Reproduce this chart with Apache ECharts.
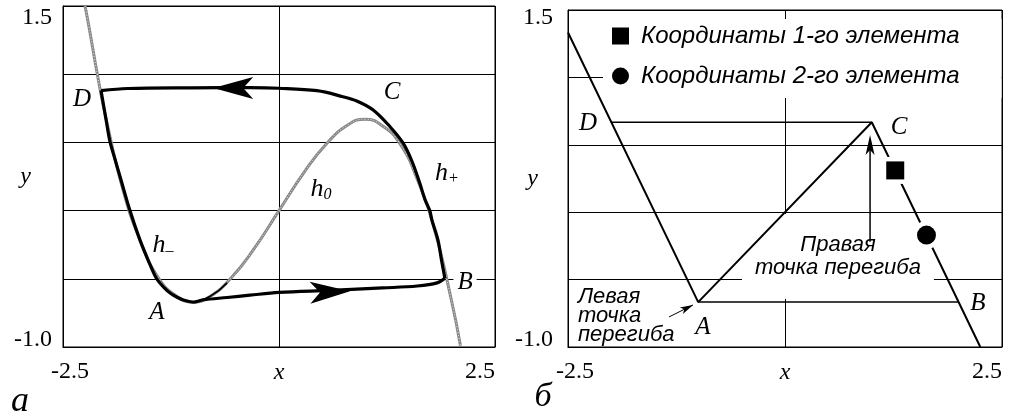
<!DOCTYPE html>
<html>
<head>
<meta charset="utf-8">
<script src="https://cdn.jsdelivr.net/npm/echarts@6/dist/echarts.min.js"></script>
<style>
  html, body { margin: 0; padding: 0; background: #fff; }
  #chart { width: 1013px; height: 419px; }
</style>
</head>
<body>
<div id="chart"></div>
<script>
// ---- axis extents and tick labels (both panels share them) ----
const xRange = [-2.5, 2.5];
const yRange = [-1.0, 1.5];
const xTickLabels = ['-2.5', '2.5'];
const yTickLabels = ['-1.0', '1.5'];

// ---- panel а: cubic nullcline h0 ----
const cubicX = [-2.245, -2.2, -2.1, -2.0, -1.8, -1.6, -1.4, -1.2, -1.0, -0.8, -0.55, -0.3, 0.0,
                0.3, 0.55, 0.8, 1.0, 1.2, 1.4, 1.6, 1.8, 2.0, 2.1];
const cubicY = [1.5, 1.35, 0.99, 0.67, 0.14, -0.23, -0.49, -0.62, -0.67, -0.63, -0.49, -0.29, 0.0,
                0.29, 0.49, 0.63, 0.67, 0.62, 0.49, 0.23, -0.14, -0.67, -0.99];

// ---- panel а: limit cycle, D -> h- -> A -> B ----
const cycleLowerX = [-2.06, -2.0, -1.956, -1.9, -1.84, -1.725, -1.61, -1.5, -1.416, -1.33, -1.257,
                     -1.18, -1.106, -0.99, -0.88, -0.6, -0.336, 0.0, 0.6, 1.2, 1.6, 1.83, 1.92];
const cycleLowerY = [0.88, 0.66, 0.505, 0.38, 0.25, 0.0, -0.215, -0.385, -0.5, -0.565, -0.606,
                     -0.635, -0.655, -0.672, -0.655, -0.637, -0.62, -0.6, -0.585, -0.567, -0.553, -0.53, -0.496];
// ---- panel а: limit cycle, B -> h+ -> C -> D ----
const cycleUpperX = [1.92, 1.88, 1.84, 1.77, 1.745, 1.69, 1.63, 1.54, 1.435, 1.285, 1.09, 0.9, 0.74,
                     0.44, 0.0, -0.34, -1.0, -1.75, -2.06];
const cycleUpperY = [-0.496, -0.36, -0.216, -0.07, 0.0, 0.08, 0.2, 0.36, 0.496, 0.615, 0.738, 0.804, 0.835,
                     0.879, 0.897, 0.901, 0.9, 0.895, 0.88];
// short stretch of trajectory that leaves A along h0
const leaveX = [-0.99, -0.8, -0.6];
const leaveY = [-0.672, -0.63, -0.53];
// direction arrows on the cycle (centre of each arrowhead, heading in degrees)
const cycleArrowX = [-0.53, 0.59];
const cycleArrowY = [0.899, -0.597];
const cycleArrowHeading = [90, -88];

// ---- panel б: piecewise-linear characteristic ----
const pwX = [-2.5, -1.0, 1.0, 2.25];
const pwY = [1.333, -0.667, 0.667, -1.0];
// fast jumps D-C and A-B
const jumpTopX = [-2.0, 1.0];
const jumpTopY = [0.667, 0.667];
const jumpBottomX = [-1.0, 2.0];
const jumpBottomY = [-0.667, -0.667];
// positions of the two elements
const elementNames = ['Координаты 1-го элемента', 'Координаты 2-го элемента'];
const element1 = [1.27, 0.31];
const element2 = [1.63, -0.17];
// pointers to the inflection points (shaft start -> arrow tip)
const rightPointerX = [0.98, 0.98];
const rightPointerY = [-0.22, 0.573];
const leftPointerX = [-1.336, -1.06];
const leftPointerY = [-0.777, -0.688];

const zip = (xs, ys) => xs.map((x, i) => [x, ys[i]]);
const SERIF = "'Liberation Serif', 'Times New Roman', serif";
const SANS = "'Liberation Sans', Arial, sans-serif";
const ARROW = 'path://M10,0L20,40L10,30L0,40Z';

const near = (a, b) => Math.abs(a - b) < 1e-9;

function xAxisFor(i) {
  const txt = { fontFamily: SERIF, fontSize: 24, color: '#000' };
  return {
    type: 'value', gridIndex: i, min: xRange[0], max: xRange[1], interval: 2.5,
    axisLine: { show: true, onZero: false, lineStyle: { color: '#000', width: 1 } },
    axisTick: { show: false },
    splitLine: { show: true, lineStyle: { color: '#000', width: 1 } },
    axisLabel: {
      margin: 13, ...txt, alignMaxLabel: 'right',
      formatter: v => near(v, xRange[0]) ? '{lo|' + xTickLabels[0] + '}'
                    : near(v, xRange[1]) ? '{hi|' + xTickLabels[1] + '}' : '',
      rich: { lo: { ...txt, padding: [0, 0, 0, 14] }, hi: { ...txt } }
    },
    name: 'x', nameLocation: 'middle', nameGap: 14, nameMoveOverlap: false,
    nameTextStyle: { ...txt, fontStyle: 'italic' }
  };
}

function yAxisFor(i, topShift, margin, nameGap) {
  const txt = { fontFamily: SERIF, fontSize: 24, color: '#000' };
  return {
    type: 'value', gridIndex: i, min: yRange[0], max: yRange[1], interval: 0.5,
    axisLine: { show: true, onZero: false, lineStyle: { color: '#000', width: 1 } },
    axisTick: { show: false },
    splitLine: { show: true, lineStyle: { color: '#000', width: 1 } },
    axisLabel: {
      margin: margin, ...txt,
      formatter: v => near(v, yRange[0]) ? '{lo|' + yTickLabels[0] + '}'
                    : near(v, yRange[1]) ? '{hi|' + yTickLabels[1] + '}' : '',
      rich: { lo: { ...txt, padding: [0, 0, 14, 0] }, hi: { ...txt, padding: [topShift * 2, 0, 0, 0] } }
    },
    name: 'y', nameLocation: 'middle', nameGap: nameGap, nameRotate: 0, nameMoveOverlap: false,
    nameTextStyle: { ...txt, fontStyle: 'italic' }
  };
}

const letter = { fontFamily: SERIF, fontStyle: 'italic', fontSize: 25, color: '#000' };
const hRich = {
  h: { fontFamily: SERIF, fontStyle: 'italic', fontSize: 26, color: '#000' },
  s: { fontFamily: SERIF, fontSize: 16, color: '#000', padding: [12, 0, 0, 0] }
};
const note = { fontFamily: SANS, fontStyle: 'italic', fontSize: 22, color: '#000' };

function annotations(xi, items, z) {
  return {
    type: 'scatter', xAxisIndex: xi, yAxisIndex: xi, z: z, silent: true,
    symbol: 'circle', symbolSize: 1, itemStyle: { color: 'transparent', opacity: 1 },
    label: { show: true, position: 'inside', ...letter },
    data: items
  };
}

const blackLine = (xi, data, width, smooth, z) => ({
  type: 'line', xAxisIndex: xi, yAxisIndex: xi, data: data, smooth: smooth,
  showSymbol: false, symbol: 'none', z: z || 2, silent: true,
  lineStyle: { color: '#000', width: width }
});

const option = {
  animation: false,
  backgroundColor: '#fff',
  grid: [
    { left: 63, top: 6, width: 432, height: 341, show: true, borderColor: '#000', borderWidth: 1 },
    { left: 568, top: 10, width: 434, height: 337, show: true, borderColor: '#000', borderWidth: 1 }
  ],
  xAxis: [xAxisFor(0), xAxisFor(1)],
  yAxis: [yAxisFor(0, 12, 11, 32), yAxisFor(1, 8, 15, 30)],
  legend: {
    data: [{ name: elementNames[0], icon: 'rect' }, { name: elementNames[1], icon: 'circle' }],
    orient: 'vertical', left: 603, top: 19,
    itemWidth: 17, itemHeight: 17, itemGap: 14,
    backgroundColor: '#fff', padding: [4, 42, 9, 9],
    selectedMode: false,
    itemStyle: { borderWidth: 0, opacity: 1 },
    textStyle: { fontFamily: SANS, fontStyle: 'italic', fontSize: 24, color: '#000', lineHeight: 26, padding: [0, 0, 0, 7] }
  },
  graphic: [
    { type: 'text', x: 20, y: 402, style: { text: 'а', font: "italic 36px 'Liberation Serif', serif", fill: '#000', textAlign: 'center', textVerticalAlign: 'middle' } },
    { type: 'text', x: 543, y: 397, style: { text: 'б', font: "italic 34px 'Liberation Serif', serif", fill: '#000', textAlign: 'center', textVerticalAlign: 'middle' } }
  ],
  series: [
    // ---------- panel а ----------
    {
      type: 'line', xAxisIndex: 0, yAxisIndex: 0, data: zip(cubicX, cubicY), smooth: true,
      showSymbol: false, symbol: 'none', z: 2, silent: true,
      lineStyle: { color: '#888', width: 3 }
    },
    {
      type: 'line', xAxisIndex: 0, yAxisIndex: 0, data: zip(cubicX, cubicY), smooth: true,
      showSymbol: false, symbol: 'none', z: 2, silent: true,
      lineStyle: { color: '#e8e8e8', width: 1, type: [1, 2] }
    },
    blackLine(0, zip(leaveX, leaveY), 1.6, true),
    blackLine(0, zip(cycleLowerX, cycleLowerY), 3.2, 0.35),
    blackLine(0, zip(cycleUpperX, cycleUpperY), 3.2, 0.35),
    {
      type: 'scatter', xAxisIndex: 0, yAxisIndex: 0, z: 3, silent: true,
      symbol: ARROW, symbolSize: [22, 40], itemStyle: { color: '#000', opacity: 1 },
      data: cycleArrowX.map((x, i) => ({ value: [x, cycleArrowY[i]], symbolRotate: cycleArrowHeading[i] }))
    },
    annotations(0, [
      { value: [-2.28, 0.818], name: 'D', label: { formatter: 'D' } },
      { value: [1.308, 0.869], name: 'C', label: { formatter: 'C' } },
      { value: [2.153, -0.523], name: 'B', label: { formatter: 'B', backgroundColor: '#fff', padding: [0, 4] } },
      { value: [-1.412, -0.743], name: 'A', label: { formatter: 'A' } },
      { value: [-1.343, -0.252], name: 'h-', label: { formatter: '{h|h}{s|–}', rich: hRich } },
      { value: [0.486, 0.158], name: 'h0', label: { formatter: '{h|h}{s|0}', rich: hRich } },
      { value: [1.944, 0.276], name: 'h+', label: { formatter: '{h|h}{s|+}', rich: hRich } }
    ], 1),

    // ---------- panel б ----------
    blackLine(1, zip(pwX, pwY), 2),
    blackLine(1, zip(jumpTopX, jumpTopY), 1.5),
    blackLine(1, zip(jumpBottomX, jumpBottomY), 1.5),
    blackLine(1, [[rightPointerX[0], rightPointerY[0]], [rightPointerX[1], rightPointerY[1] - 0.06]], 1.5),
    blackLine(1, zip(leftPointerX, leftPointerY), 1),
    {
      type: 'scatter', xAxisIndex: 1, yAxisIndex: 1, z: 3, silent: true,
      symbol: ARROW, itemStyle: { color: '#000', opacity: 1 },
      data: [
        { value: [rightPointerX[1], rightPointerY[1]], symbolSize: [9, 20], symbolOffset: [0, 10], symbolRotate: 0 },
        { value: [leftPointerX[1], leftPointerY[1]], symbolSize: [7, 13], symbolOffset: [-5.8, 2.9], symbolRotate: -63.4 }
      ]
    },
    {
      type: 'scatter', xAxisIndex: 1, yAxisIndex: 1, z: 3, silent: true,
      itemStyle: { color: '#fff', opacity: 1 },
      data: [
        { value: element1, symbol: 'rect', symbolSize: 27 },
        { value: element2, symbol: 'circle', symbolSize: 28 }
      ]
    },
    {
      name: elementNames[0], type: 'scatter', xAxisIndex: 1, yAxisIndex: 1, z: 4, silent: true,
      symbol: 'rect', symbolSize: 18, itemStyle: { color: '#000', opacity: 1 }, data: [element1]
    },
    {
      name: elementNames[1], type: 'scatter', xAxisIndex: 1, yAxisIndex: 1, z: 4, silent: true,
      symbol: 'circle', symbolSize: 19, itemStyle: { color: '#000', opacity: 1 }, data: [element2]
    },
    annotations(1, [
      { value: [-2.27, 0.662], name: 'D', label: { formatter: 'D' } },
      { value: [1.313, 0.632], name: 'C', label: { formatter: 'C' } },
      { value: [-0.945, -0.852], name: 'A', label: { formatter: 'A' } },
      { value: [2.223, -0.674], name: 'B', label: { formatter: 'B' } },
      { value: [-2.385, -0.77], name: 'left', label: { formatter: 'Левая\nточка\nперегиба', ...note, lineHeight: 19, align: 'left' } },
      { value: [0.61, -0.329], name: 'right', label: { formatter: 'Правая\nточка перегиба', ...note, lineHeight: 23, align: 'center', backgroundColor: '#fff', padding: [26, 13, 13, 13] } }
    ], 1)
  ]
};

const chart = echarts.init(document.getElementById('chart'), null, { renderer: 'canvas' });
chart.setOption(option);
</script>
</body>
</html>
